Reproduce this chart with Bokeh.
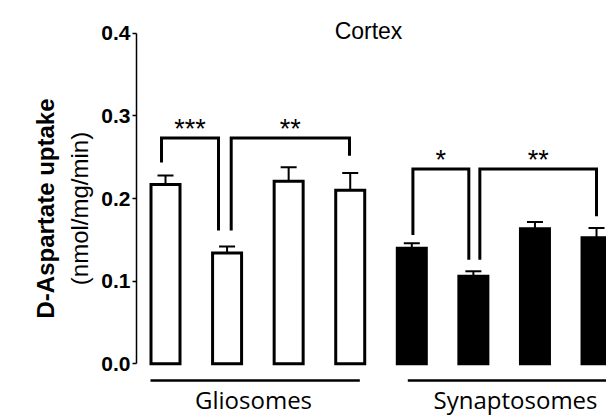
import math
from bokeh.plotting import figure
from bokeh.models import Range1d, FixedTicker, NumeralTickFormatter, Label, ColumnDataSource, Title
from bokeh.core.properties import value
from bokeh.embed import file_html
from bokeh.resources import INLINE

# D-aspartate uptake (nmol/mg/min), cortex: four conditions per preparation
groups = ["Gliosomes", "Synaptosomes"]
gliosome_mean = [0.217, 0.134, 0.221, 0.210]
gliosome_sem = [0.011, 0.008, 0.017, 0.021]
synaptosome_mean = [0.140, 0.106, 0.1635, 0.1525]
synaptosome_sem = [0.006, 0.006, 0.008, 0.012]
y_ticks = [0.0, 0.1, 0.2, 0.3, 0.4]

# significance brackets: left x, right x, top, left leg end, right leg end, stars
bracket_x0 = [-0.065, 1.067, 4.018, 5.105]
bracket_x1 = [0.861, 2.988, 4.926, 7.0]
bracket_top = [0.2732, 0.2732, 0.2357, 0.2357]
bracket_left_end = [0.2436, 0.1613, 0.156, 0.1258]
bracket_right_end = [0.1613, 0.2517, 0.1258, 0.1786]
bracket_stars = ["***", "**", "*", "**"]

W, H = 606, 416
FRAME_LEFT = 136
p = figure(width=W, height=H, output_backend="svg", toolbar_location=None,
           x_range=Range1d(-0.471, 7.162), y_range=Range1d(-0.0637, 0.4396),
           x_axis_location=None, min_border_left=FRAME_LEFT, min_border_right=0,
           min_border_top=0, min_border_bottom=0)
p.outline_line_color = None
p.grid.visible = False
p.background_fill_color = "white"
p.border_fill_color = "white"

ax = p.yaxis[0]
ax.bounds = (0, 0.4)
ax.ticker = FixedTicker(ticks=y_ticks)
ax.formatter = NumeralTickFormatter(format="0.0")
ax.axis_line_width = 1.5
ax.major_tick_line_width = 1.5
ax.major_tick_out = 4
ax.major_tick_in = 0
ax.minor_tick_line_color = None
ax.major_label_standoff = 2
ax.major_label_text_font = "Liberation Sans"
ax.major_label_text_font_style = "bold"
ax.major_label_text_font_size = "21px"
ax.major_label_text_color = "black"
ax.axis_line_color = "black"
ax.major_tick_line_color = "black"

# y-axis title in two lines: units next to the axis, quantity outside it
p.add_layout(Title(text="(nmol/mg/min)", align="center", text_font="Liberation Sans",
                   text_font_size="24px", text_font_style="normal", text_color="black",
                   standoff=11, offset=8), "left")
p.add_layout(Title(text="D-Aspartate uptake", align="center", text_font="Liberation Sans",
                   text_font_size="24px", text_font_style="bold", text_color="black",
                   standoff=0, offset=8), "left")

means = gliosome_mean + synaptosome_mean
sems = gliosome_sem + synaptosome_sem
xs = list(range(len(means)))
fills = ["white"] * len(gliosome_mean) + ["black"] * len(synaptosome_mean)
caps = [m + s for m, s in zip(means, sems)]

src = ColumnDataSource(dict(x=xs, top=means, cap=caps, fill=fills,
                            cl=[x - 0.13 for x in xs], cr=[x + 0.13 for x in xs]))

# upward error bars
p.segment(x0="x", y0="top", x1="x", y1="cap", source=src, line_color="black", line_width=2)
p.segment(x0="cl", y0="cap", x1="cr", y1="cap", source=src, line_color="black", line_width=2)

p.vbar(x="x", top="top", bottom=0, width=0.471, source=src,
       fill_color="fill", line_color="black", line_width=3, line_join="miter")

# brackets
bxs, bys = [], []
for x0, x1, t, l, r in zip(bracket_x0, bracket_x1, bracket_top, bracket_left_end, bracket_right_end):
    bxs.append([x0, x0, x1, x1])
    bys.append([l, t, t, r])
p.multi_line(xs=bxs, ys=bys, line_color="black", line_width=3, line_join="miter", line_cap="butt")

star_x = [(a + b) / 2 for a, b in zip(bracket_x0, bracket_x1)]
star_y = [t + 0.011 for t in bracket_top]
p.text(x=star_x, y=star_y, text=bracket_stars, text_font=value("Liberation Sans"),
       text_font_size="27px", text_align="center", text_baseline="alphabetic", text_color="black")

# group underlines and labels
group_x0 = [-0.244, 3.935]
group_x1 = [3.156, 8.0]
group_y = -0.0202
p.segment(x0=group_x0, y0=[group_y] * 2, x1=group_x1, y1=[group_y] * 2,
          line_color="black", line_width=2.5)
group_cx = [1.43, 5.685]
p.text(x=group_cx, y=[-0.0431] * 2, text=groups, text_font=value("Open Sans"),
       text_font_size="24px", text_align="center", text_baseline="middle", text_color="black")

# panel title inside the frame (screen offsets are measured from the frame's left edge)
p.add_layout(Label(x=368 - FRAME_LEFT, y=H - 30, x_units="screen", y_units="screen", text="Cortex",
                   text_font="Liberation Sans", text_font_size="23px",
                   text_align="center", text_baseline="middle", text_color="black"))

open("out.html", "w").write(file_html(p, INLINE))
